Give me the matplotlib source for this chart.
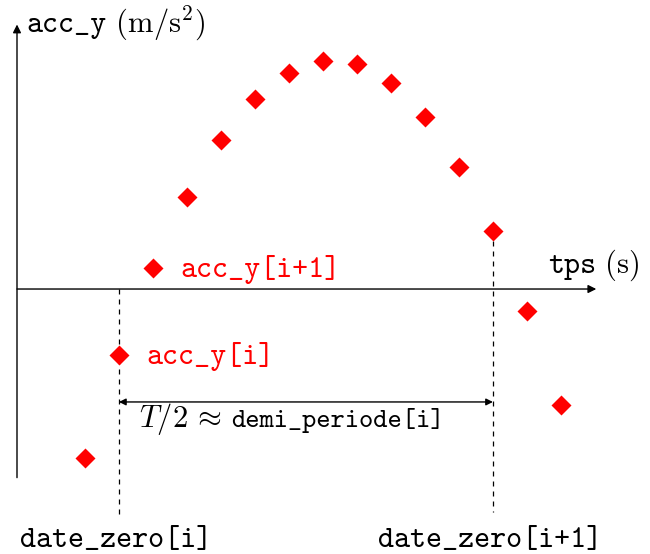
import os
import matplotlib as mpl
import matplotlib.pyplot as plt
from matplotlib.font_manager import FontProperties

plt.rcParams["mathtext.fontset"] = "cm"

# time samples (s) and measured acceleration (arbitrary units)
tps = [0.10, 0.15, 0.20, 0.25, 0.30, 0.35, 0.40, 0.45, 0.50, 0.55, 0.60, 0.65, 0.70, 0.75, 0.80]
acc_y = [-0.735, -0.287, 0.091, 0.400, 0.648, 0.826, 0.939, 0.991, 0.978, 0.896, 0.748, 0.530, 0.252, -0.096, -0.504]

i = 1  # index of acc_y[i]
date_zero = [0.15, 0.70]

RED = "#ff0000"
TT = FontProperties(fname=os.path.join(mpl.get_data_path(), "fonts", "ttf", "cmtt10.ttf"), size=22)
TT_SMALL = FontProperties(fname=os.path.join(mpl.get_data_path(), "fonts", "ttf", "cmtt10.ttf"), size=19.5)


def label(ax, x, y, tt, math=None, fp=TT, color="black", size=22):
    # typewriter text followed by a roman (mathtext) part, same baseline
    t = ax.text(x, y, tt, fontproperties=fp, color=color, va="baseline", ha="left")
    if math:
        ax.annotate(math, xy=(1, y), xycoords=(t, "data"), va="baseline", ha="left",
                    fontsize=size, color=color)
    return t


fig = plt.figure(figsize=(6.5, 5.54), dpi=100)
ax = fig.add_axes([0, 0, 1, 1])
ax.set_xlim(-0.025, 0.931)
ax.set_ylim(-1.152, 1.2565)
ax.axis("off")

# axes drawn as arrows
ax.annotate("", xy=(0.852, 0), xytext=(0, 0),
            arrowprops=dict(arrowstyle="-|>", color="black", lw=1, mutation_scale=12, shrinkA=0, shrinkB=0))
ax.annotate("", xy=(0, 1.15), xytext=(0, -0.82),
            arrowprops=dict(arrowstyle="-|>", color="black", lw=1, mutation_scale=12, shrinkA=0, shrinkB=0))

label(ax, 0.0145, 1.117, "acc_y", r"$\ (\mathrm{m/s^2})$")
label(ax, 0.781, 0.07, "tps", r"$\ (\mathrm{s})$")

# dashed markers for the zero crossings
ax.plot([date_zero[0]] * 2, [0, -0.98], ls=(0, (4, 4)), color="black", lw=0.9)
ax.plot([date_zero[1]] * 2, [acc_y[12], -0.97], ls=(0, (4, 4)), color="black", lw=0.9)

ax.plot(tps, acc_y, ls="none", marker="D", ms=10.5, color=RED, mec="none")

label(ax, 0.240, 0.052, "acc_y[i+1]", color=RED)
label(ax, 0.190, -0.326, "acc_y[i]", color=RED)

# half-period arrow
ax.annotate("", xy=(date_zero[1], -0.491), xytext=(date_zero[0], -0.491),
            arrowprops=dict(arrowstyle="<|-|>", color="black", lw=1, mutation_scale=10, shrinkA=0, shrinkB=0))
t = ax.text(0.180, -0.600, r"$T/2\,\approx$", fontsize=22, va="baseline", ha="left")
ax.annotate("demi_periode[i]", xy=(1, -0.600), xycoords=(t, "data"),
            xytext=(7, 0), textcoords="offset points", va="baseline", ha="left",
            fontproperties=TT_SMALL)

label(ax, 0.0044, -1.122, "date_zero[i]")
label(ax, 0.531, -1.122, "date_zero[i+1]")

fig.savefig("out.png", dpi=100)
